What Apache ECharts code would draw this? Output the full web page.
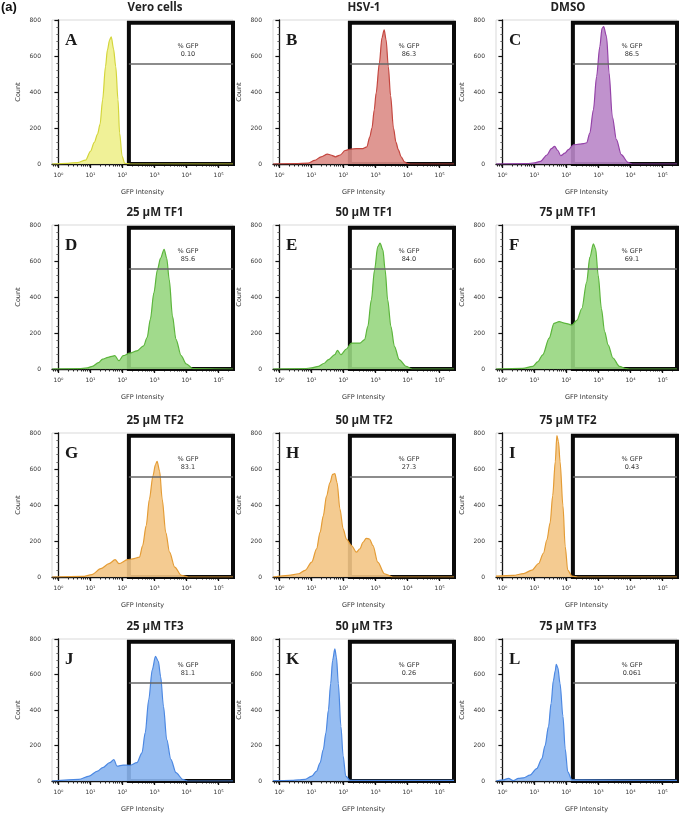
<!DOCTYPE html>
<html><head><meta charset="utf-8">
<script src="https://cdn.jsdelivr.net/npm/echarts@6/dist/echarts.min.js"></script>
<style>html,body{margin:0;padding:0;background:#fff}#c{width:683px;height:814px}</style>
</head><body><div id="c"></div>
<script>
// ---- data (x = log10 GFP intensity, y = count) ----
const panelTitles = ['Vero cells','HSV-1','DMSO','25 µM TF1','50 µM TF1','75 µM TF1','25 µM TF2','50 µM TF2','75 µM TF2','25 µM TF3','50 µM TF3','75 µM TF3'];
const panelLetters = ['A','B','C','D','E','F','G','H','I','J','K','L'];
const gfpPercent = ['0.10','86.3','86.5','85.6','84.0','69.1','83.1','27.3','0.43','81.1','0.26','0.061'];
const xTickExponents = [0,1,2,3,4,5];
const xTickLabels = ['10⁰','10¹','10²','10³','10⁴','10⁵'];
const gateStartLog = 2.2;
const gateTopCount = 785;
const gateLineCount = 555;

const logA = [-0.2,0.3,0.6,0.85,1.0,1.12,1.22,1.3,1.38,1.47,1.53,1.6,1.65,1.72,1.79,1.86,1.91,1.99,2.07,2.3,5.45];
const countA = [0,4,8,22,70,120,165,220,357,541,634,690,707,640,541,357,172,42,3,0,0];
const logB = [-0.2,0.5,0.9,1.1,1.3,1.5,1.6,1.75,1.9,2.05,2.2,2.4,2.6,2.73,2.82,2.89,2.96,3.02,3.12,3.2,3.27,3.33,3.4,3.47,3.56,3.64,3.71,3.8,3.9,4.0,4.1,5.45];
const countB = [0,2,5,20,40,55,50,40,50,75,82,85,85,95,150,200,300,394,560,700,745,690,541,380,200,120,80,40,12,2,0,0];
const logC = [-0.2,0.77,1.0,1.19,1.39,1.53,1.63,1.73,1.82,1.95,2.06,2.22,2.4,2.53,2.63,2.73,2.84,2.94,3.04,3.11,3.16,3.25,3.33,3.43,3.56,3.71,3.92,4.05,5.45];
const countC = [0,2,6,15,50,85,98,75,46,60,80,107,110,113,118,172,301,486,652,754,763,708,505,264,135,52,9,0,0];
const logD = [-0.2,0.64,0.9,1.06,1.25,1.38,1.55,1.7,1.76,1.89,2.02,2.23,2.45,2.66,2.77,2.87,2.98,3.09,3.19,3.3,3.38,3.46,3.56,3.67,3.83,3.99,4.2,5.45];
const countD = [0,2,6,15,35,55,65,72,74,46,74,88,101,129,175,276,423,551,616,665,616,496,294,165,74,28,2,0];
const logE = [-0.2,0.8,1.0,1.22,1.4,1.53,1.73,1.81,1.92,2.09,2.25,2.51,2.66,2.76,2.87,2.97,3.07,3.14,3.23,3.3,3.38,3.48,3.59,3.74,3.95,4.15,5.45];
const countE = [0,2,6,15,32,52,80,104,80,111,144,144,163,237,384,551,680,699,662,551,384,237,126,52,15,0,0];
const logF = [-0.2,0.64,0.95,1.1,1.26,1.46,1.61,1.77,1.97,2.17,2.33,2.48,2.63,2.73,2.84,2.91,2.99,3.09,3.19,3.3,3.45,3.65,3.86,4.0,5.45];
const countF = [0,3,15,40,79,171,254,263,254,244,272,336,483,621,695,667,520,336,208,134,61,15,2,0,0];
const logG = [-0.2,0.75,1.05,1.32,1.58,1.77,1.89,2.16,2.32,2.53,2.63,2.74,2.84,2.95,3.03,3.08,3.16,3.24,3.35,3.47,3.63,3.84,4.05,5.45];
const countG = [0,3,13,46,74,96,74,96,101,110,175,285,432,561,625,643,588,432,248,138,55,9,0,0];
const logH = [-0.2,0.29,0.6,0.8,1.01,1.16,1.27,1.37,1.47,1.58,1.66,1.73,1.8,1.89,1.99,2.09,2.25,2.4,2.51,2.61,2.71,2.81,2.92,3.07,3.28,3.54,5.45];
const countH = [0,9,18,37,83,156,248,340,450,524,570,575,524,377,267,211,175,138,156,193,215,211,175,83,18,0,0];
const logI = [-0.2,0.34,0.66,0.92,1.13,1.28,1.39,1.49,1.57,1.65,1.7,1.75,1.8,1.89,1.96,2.04,2.17,2.35,5.45];
const countI = [5,9,19,38,75,132,207,301,452,640,785,753,640,395,169,38,5,0,0];
const logJ = [-0.2,0.64,0.96,1.22,1.38,1.6,1.73,1.83,2.02,2.23,2.45,2.61,2.71,2.82,2.93,3.03,3.12,3.19,3.28,3.38,3.51,3.67,3.88,4.04,5.45];
const countJ = [0,9,28,56,75,103,120,84,90,88,103,159,272,459,627,702,674,590,421,234,122,47,9,0,0];
const logK = [-0.2,0.39,0.6,0.8,1.01,1.16,1.27,1.37,1.45,1.53,1.6,1.66,1.73,1.78,1.84,1.92,1.99,2.07,2.2,5.45];
const countK = [2,3,6,9,28,56,102,177,270,400,549,679,744,698,549,307,140,28,4,3];
const logL = [-0.2,0.03,0.19,0.34,0.5,0.66,0.86,1.07,1.23,1.33,1.44,1.52,1.59,1.65,1.68,1.73,1.8,1.89,1.96,2.04,2.17,5.45];
const countL = [0,6,15,2,15,18,33,70,125,198,308,437,565,620,657,639,547,363,180,51,6,3];

const panelLogs = [logA,logB,logC,logD,logE,logF,logG,logH,logI,logJ,logK,logL];
const panelCounts = [countA,countB,countC,countD,countE,countF,countG,countH,countI,countJ,countK,countL];

// ---- styling ----
const fillColors = ['#eef08c','#dc8c86','#b986c8','#97d680','#97d680','#97d680','#f3c585','#f3c585','#f3c585','#8ab5f0','#8ab5f0','#8ab5f0'];
const lineColors = ['#d3d53a','#c4463f','#9442a8','#5cb53c','#5cb53c','#5cb53c','#e49c35','#e49c35','#e49c35','#4c88e2','#4c88e2','#4c88e2'];
const colLeft = [52,273,496], rowTop = [20,225,433,639], titleX = [155,364,568];
const W = 181, H = 144, XMIN = -0.2, XMAX = 5.45;

const minorTicks = [];
for (let d = -1; d <= 5; d++) for (let k = 2; k <= 9; k++) {
  const v = d + Math.log10(k);
  if (v > XMIN && v < XMAX) minorTicks.push(v);
}

const grid = [], xAxis = [], yAxis = [], series = [], graphic = [];
graphic.push({type:'text', x:1, y:1, style:{text:'(a)', font:'bold 13px "Liberation Sans"', fill:'#111'}});

for (let i = 0; i < 12; i++) {
  const r = Math.floor(i/3), c = i % 3;
  grid.push({left: colLeft[c], top: rowTop[r], width: W, height: H, show: true,
             borderColor: '#d9d9d9', borderWidth: 1, backgroundColor: 'transparent'});
  xAxis.push({gridIndex: i, type: 'value', min: XMIN, max: XMAX, position: 'bottom',
    axisLine: {show: true, onZero: false, lineStyle: {color: '#111', width: 1.3}},
    axisTick: {show: true, length: 4, customValues: xTickExponents, lineStyle: {color: '#111', width: 1.3}},
    axisLabel: {customValues: xTickExponents, margin: 8, fontSize: 6, color: '#333', fontFamily: 'DejaVu Sans',
      formatter: v => xTickLabels[xTickExponents.indexOf(Math.round(v))]},
    splitLine: {show: false},
    name: 'GFP Intensity', nameLocation: 'middle', nameGap: 25,
    nameTextStyle: {fontSize: 6.5, color: '#333', fontFamily: 'DejaVu Sans'}});
  xAxis.push({gridIndex: i, type: 'value', min: XMIN, max: XMAX, position: 'bottom',
    axisLine: {show: false}, axisLabel: {show: false}, splitLine: {show: false},
    axisTick: {show: true, length: 2.5, customValues: minorTicks, lineStyle: {color: '#222', width: 1}}});
  yAxis.push({gridIndex: i, type: 'value', min: 0, max: 800, interval: 200,
    axisLine: {show: true, lineStyle: {color: '#111', width: 1.3}},
    axisTick: {show: true, length: 4, lineStyle: {color: '#111', width: 1.2}},
    minorTick: {show: true, splitNumber: 5, length: 2, lineStyle: {color: '#666'}},
    axisLabel: {fontSize: 6, color: '#333', margin: 11, fontFamily: 'DejaVu Sans'},
    splitLine: {show: false},
    name: 'Count', nameLocation: 'middle', nameGap: 30,
    nameTextStyle: {fontSize: 6.5, color: '#333', fontFamily: 'DejaVu Sans'}});
  const data = panelLogs[i].map((x, k) => [x, panelCounts[i][k]]);
  series.push({type: 'line', xAxisIndex: 2*i, yAxisIndex: i, data, symbol: 'none',
    smooth: 0.3, smoothMonotone: 'x', z: 2, silent: true,
    lineStyle: {color: lineColors[i], width: 1.2},
    areaStyle: {color: fillColors[i], opacity: 0.9}});
  series.push({type: 'line', xAxisIndex: 2*i, yAxisIndex: i, data: [], z: 5, silent: true,
    markArea: {silent: true,
      itemStyle: {color: 'rgba(0,0,0,0)', borderColor: '#0a0a0a', borderWidth: 4},
      label: {show: true, position: 'insideTop', offset: [7, 17], formatter: '% GFP\n' + gfpPercent[i],
        fontSize: 6.5, lineHeight: 7.5, color: '#333', fontFamily: 'DejaVu Sans', align: 'center'},
      data: [[{coord: [gateStartLog, 0]}, {coord: [XMAX, gateTopCount]}]]},
    markLine: {silent: true, symbol: 'none', label: {show: false},
      lineStyle: {color: '#666', width: 1.5, type: 'solid'},
      data: [[{coord: [gateStartLog, gateLineCount]}, {coord: [XMAX, gateLineCount]}]]}});
  graphic.push({type: 'text', x: titleX[c], y: rowTop[r] - 12.5,
    style: {text: panelTitles[i], font: 'bold 11.5px "Open Sans"', fill: '#222', align: 'center', verticalAlign: 'middle'}});
  graphic.push({type: 'text', x: colLeft[c] + 13, y: rowTop[r] + 12,
    style: {text: panelLetters[i], font: 'bold 17px "Liberation Serif"', fill: '#1a1a1a', align: 'left', verticalAlign: 'top'}});
}

const chart = echarts.init(document.getElementById('c'), null, {renderer: 'canvas'});
chart.setOption({animation: false, backgroundColor: '#fff', grid, xAxis, yAxis, series, graphic});
</script></body></html>
